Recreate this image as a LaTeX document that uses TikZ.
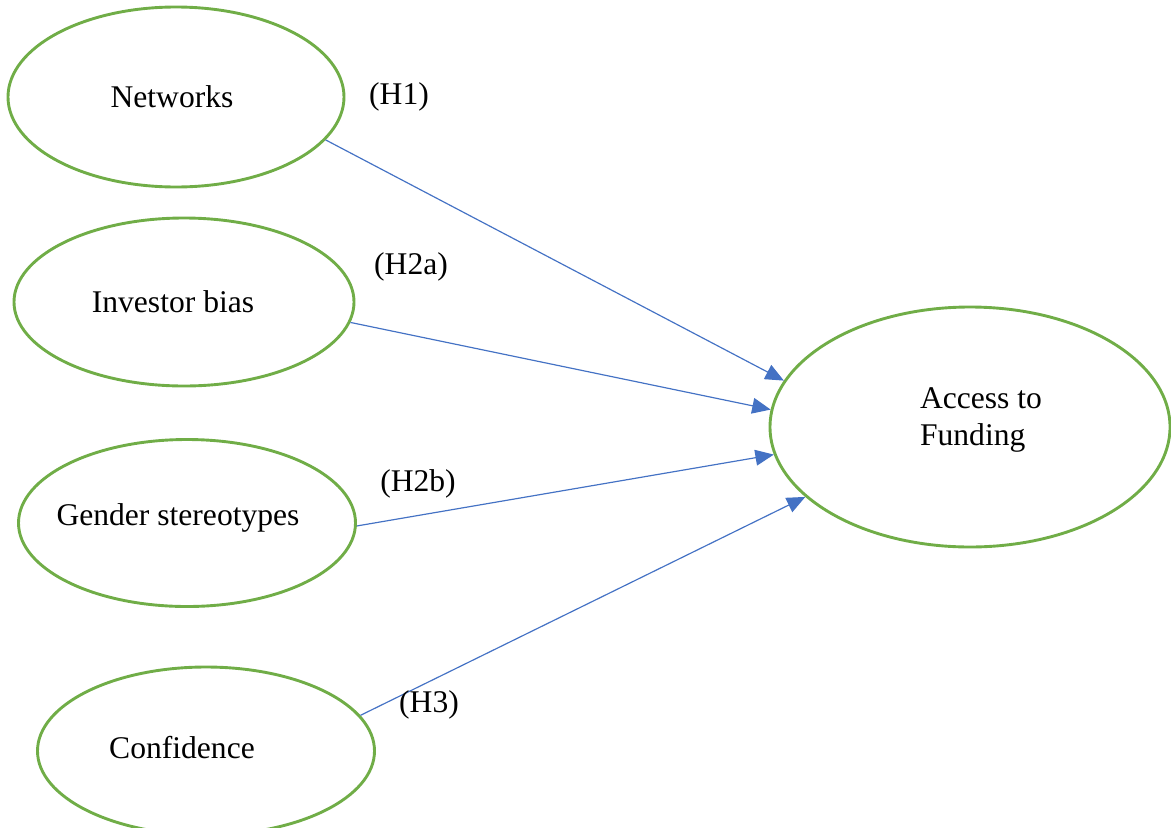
\documentclass[tikz,border=0pt]{standalone}
\usepackage{fontspec}
\setmainfont{Liberation Serif}
\usetikzlibrary{shapes.geometric,arrows.meta}
\definecolor{olgreen}{HTML}{70AD47}
\definecolor{olblue}{HTML}{4472C4}
\def\unitpx{0.38pt}

\begin{document}
\begin{tikzpicture}[x=0.38pt,y=-0.38pt,
  font=\fontsize{12}{14}\selectfont,
  var/.style={ellipse,draw=olgreen,line width=1.1pt,inner sep=0pt},
  link/.style={olblue,line width=0.45pt,-{Triangle[length=7pt,width=6pt]}}]

% Page frame
\useasboundingbox (0,0) rectangle (1171,827);

% Constructs
\node[var,minimum width=336*\unitpx,minimum height=180*\unitpx,
  label={[xshift=-4*\unitpx]center:Networks}] (net) at (176,97) {};
\node[var,minimum width=340*\unitpx,minimum height=168*\unitpx,
  label={[xshift=-11*\unitpx]center:Investor bias}] (inv) at (184,302) {};
\node[var,minimum width=337*\unitpx,minimum height=167*\unitpx,
  label={[xshift=-9*\unitpx,yshift=5*\unitpx]center:Gender stereotypes}] (gen) at (187,523) {};
\node[var,minimum width=337*\unitpx,minimum height=168*\unitpx,
  label={[xshift=-24*\unitpx,yshift=3*\unitpx]center:Confidence}] (con) at (206,751) {};

% Outcome
\node[var,minimum width=400*\unitpx,minimum height=240*\unitpx,
  label={[align=left,xshift=11*\unitpx,yshift=7*\unitpx]center:{Access to\\Funding}}] (acc) at (970,427) {};

% Hypothesised paths
\draw[link] (net.-16) -- (acc.166);
\draw[link] (inv.-7) -- (acc.175);
\draw[link] (gen.-1) -- (acc.188);
\draw[link] (con.13) -- (acc.203);

% Hypothesis labels
\node (h1) at (399,97) {(H1)};
\node (h2a) at (411,267) {(H2a)};
\node (h2b) at (418,484) {(H2b)};
\node (h3) at (429,705) {(H3)};

\end{tikzpicture}
\end{document}
